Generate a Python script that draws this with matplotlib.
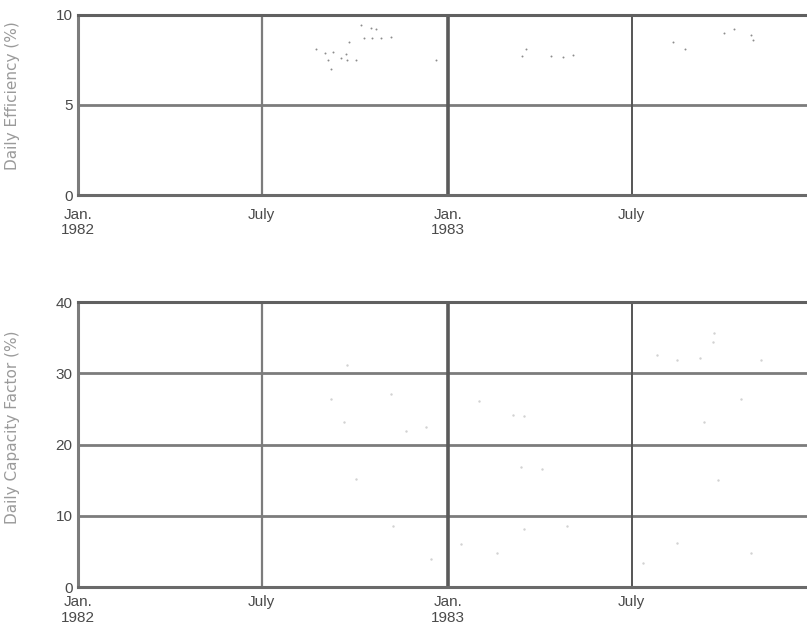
import numpy as np
import matplotlib
matplotlib.use("Agg")
import matplotlib.pyplot as plt

plt.rcParams['font.family'] = ['Liberation Sans', 'DejaVu Sans']

# faint daily points
eff_dates = ["1982-10-07", "1982-10-17", "1982-10-22", "1982-10-10", "1982-10-18",
             "1982-10-27", "1982-11-06", "1982-09-25", "1982-08-24", "1982-09-02",
             "1982-09-10", "1982-09-05", "1982-09-17", "1982-09-23", "1982-10-02",
             "1982-09-22", "1982-12-20", "1982-09-08", "1983-03-19", "1983-03-15",
             "1983-04-13", "1983-04-24", "1983-05-04", "1983-08-11", "1983-08-23",
             "1983-09-30", "1983-10-10", "1983-10-27", "1983-10-29"]
eff_vals = [9.45, 9.3, 9.2, 8.7, 8.7, 8.7, 8.75, 8.5, 8.1, 7.9,
            7.95, 7.5, 7.6, 7.5, 7.5, 7.85, 7.5, 7.0, 8.1, 7.7,
            7.7, 7.65, 7.8, 8.5, 8.1, 9.0, 9.2, 8.9, 8.6]

cap_dates = ["1982-09-23", "1982-11-06", "1982-09-08", "1982-09-20", "1982-11-21",
             "1982-12-10", "1983-02-01", "1983-03-06", "1983-03-17", "1982-10-02",
             "1982-11-08", "1982-12-15", "1983-01-14", "1983-03-17", "1983-02-18",
             "1983-03-14", "1983-04-04", "1983-04-28", "1983-09-19", "1983-09-20",
             "1983-07-26", "1983-08-15", "1983-09-07", "1983-11-06", "1983-10-17",
             "1983-09-10", "1983-08-15", "1983-07-12", "1983-09-24", "1983-10-27"]
cap_vals = [31.2, 27.1, 26.4, 23.2, 21.9, 22.5, 26.1, 24.1, 24.0, 15.1,
            8.5, 4.0, 6.0, 8.2, 4.8, 16.8, 16.5, 8.5, 34.4, 35.7,
            32.6, 31.9, 32.2, 31.9, 26.4, 23.2, 6.2, 3.4, 15.0, 4.8]

xticks = ["1982-01-01", "1982-07-01", "1983-01-01", "1983-07-01"]
xticklabels = ["Jan.\n1982", "July", "Jan.\n1983", "July"]

eff_ticks = [0, 5, 10]
cap_ticks = [0, 10, 20, 30, 40]

fig = plt.figure(figsize=(8.07, 6.34), dpi=100)
ax1 = fig.add_axes([0.0967, 0.6924, 0.917, 0.284])
ax2 = fig.add_axes([0.0967, 0.0741, 0.917, 0.4495])

tick_dates = [np.datetime64(d) for d in xticks]
grid_col = "#7c7c7c"


def style(ax, yticks, ylabel, xpad, label_y):
    ax.set_xlim(np.datetime64("1982-01-01"), np.datetime64("1984-01-01"))
    ax.set_ylim(yticks[0], yticks[-1])
    ax.set_xticks(tick_dates)
    ax.set_xticklabels(xticklabels, fontsize=11, color="#4a4a4a",
                       linespacing=1.15)
    ax.set_yticks(yticks)
    ax.set_yticklabels([str(t) for t in yticks], fontsize=11, color="#4a4a4a")
    ax.tick_params(axis="x", length=0, pad=xpad)
    ax.tick_params(axis="y", length=0, pad=4)
    ax.set_ylabel(ylabel, fontsize=11, color="#9a9a9a",
                  family=["DejaVu Sans"])
    ax.yaxis.set_label_coords(-0.078, label_y)
    ax.spines["right"].set_visible(False)
    ax.spines["top"].set_color("#606060")
    ax.spines["top"].set_linewidth(2.2)
    ax.spines["left"].set_color(grid_col)
    ax.spines["left"].set_linewidth(2.2)
    ax.spines["bottom"].set_color("#6a6a6a")
    ax.spines["bottom"].set_linewidth(2.2)
    for t in yticks[1:-1]:
        ax.axhline(t, color=grid_col, lw=2.0, zorder=1)
    ax.axvline(tick_dates[1], color=grid_col, lw=1.6, zorder=1)
    ax.axvline(tick_dates[2], color="#5a5a5a", lw=2.6, zorder=1)
    ax.axvline(tick_dates[3], color="#555555", lw=1.4, zorder=1)


style(ax1, eff_ticks, "Daily Efficiency (%)", 9, 0.55)
style(ax2, cap_ticks, "Daily Capacity Factor (%)", 6, 0.56)

ax1.scatter([np.datetime64(d) for d in eff_dates], eff_vals, s=2,
            color="#8c8c8c", zorder=2, linewidths=0)
ax2.scatter([np.datetime64(d) for d in cap_dates], cap_vals, s=3,
            color="#d2d2d2", zorder=2, linewidths=0)

fig.savefig("out.png", dpi=100)
